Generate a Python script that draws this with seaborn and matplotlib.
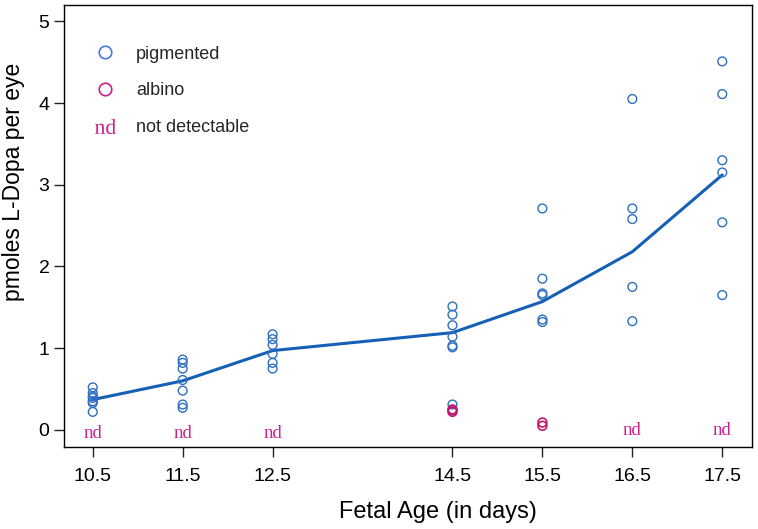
import pandas as pd
import matplotlib
matplotlib.use("Agg")
import matplotlib.pyplot as plt
import seaborn as sns
from matplotlib.lines import Line2D

ages = [10.5, 11.5, 12.5, 14.5, 15.5, 16.5, 17.5]
pig_105 = [0.52, 0.45, 0.41, 0.39, 0.35, 0.33, 0.22]
pig_115 = [0.86, 0.82, 0.75, 0.61, 0.48, 0.31, 0.27]
pig_125 = [1.17, 1.11, 1.04, 0.93, 0.82, 0.75]
pig_145 = [1.51, 1.41, 1.28, 1.14, 1.03, 1.01, 0.31]
pig_155 = [2.71, 1.85, 1.67, 1.65, 1.35, 1.32]
pig_165 = [4.05, 2.71, 2.58, 1.75, 1.33]
pig_175 = [4.51, 4.11, 3.30, 3.15, 2.54, 1.65]
pigmented = [pig_105, pig_115, pig_125, pig_145, pig_155, pig_165, pig_175]

albino_ages = [14.5, 14.5, 14.5, 15.5, 15.5]
albino_vals = [0.25, 0.24, 0.22, 0.09, 0.05]

mean_line = [0.37, 0.60, 0.97, 1.19, 1.57, 2.18, 3.12]

nd_ages = [10.5, 11.5, 12.5, 16.5, 17.5]
nd_y = [-0.05, -0.05, -0.05, -0.01, -0.01]

BLUE = "#2f6fc0"
LINE = "#1560b5"
MAGENTA = "#cc1f8f"

pig_df = pd.DataFrame({
    "age": [a for a, vals in zip(ages, pigmented) for _ in vals],
    "val": [v for vals in pigmented for v in vals],
})
alb_df = pd.DataFrame({"age": albino_ages, "val": albino_vals})
mean_df = pd.DataFrame({"age": ages, "val": mean_line})

sns.set_style("ticks")
plt.rcParams["font.family"] = ["Liberation Sans", "DejaVu Sans"]
plt.rcParams["mathtext.fontset"] = "custom"
plt.rcParams["mathtext.rm"] = "Liberation Serif"

fig = plt.figure(figsize=(7.58, 5.29), dpi=100)
ax = fig.add_axes([0.0844, 0.155, 0.9076, 0.8355])

sns.lineplot(data=mean_df, x="age", y="val", color=LINE, linewidth=2.2, ax=ax)
sns.scatterplot(data=pig_df, x="age", y="val", marker="o", s=40,
                facecolor="none", edgecolor=BLUE, linewidth=1.0, ax=ax, zorder=3)
sns.scatterplot(data=alb_df, x="age", y="val", marker="o", s=40,
                facecolor="none", edgecolor="#c0176e", linewidth=1.2, ax=ax, zorder=3)

for a, y in zip(nd_ages, nd_y):
    ax.text(a, y, "nd", color=MAGENTA, fontsize=13.5, ha="center", va="center",
            family=["Liberation Serif", "DejaVu Serif"])

ax.set_xlim(10.18, 17.83)
ax.set_ylim(-0.21, 5.2)
ax.set_xticks(ages)
ax.set_xticklabels([str(a) for a in ages])
ax.set_yticks([0, 1, 2, 3, 4, 5])
ax.tick_params(axis="both", labelsize=14, length=7, width=1, color="#222222",
               labelcolor="black")
ax.tick_params(axis="x", pad=8)
ax.set_xlabel("Fetal Age (in days)", fontsize=17, color="black")
ax.set_ylabel("pmoles L-Dopa per eye", fontsize=16.5, color="black")
ax.xaxis.set_label_coords(0.544, -0.122)
ax.yaxis.set_label_coords(-0.057, 0.60)
for sp in ax.spines.values():
    sp.set_visible(True)
    sp.set_linewidth(1.0)
    sp.set_color("black")

# legend
handles = [
    Line2D([], [], marker="o", linestyle="none", markersize=9,
           markerfacecolor="none", markeredgecolor="#4a7ae0", markeredgewidth=1.2),
    Line2D([], [], marker="o", linestyle="none", markersize=9,
           markerfacecolor="none", markeredgecolor=MAGENTA, markeredgewidth=1.2),
    Line2D([], [], marker="$\\mathrm{nd}$", linestyle="none", markersize=15,
           markeredgewidth=0, color=MAGENTA),
]
ax.legend(handles, ["pigmented", "albino", "not detectable"], loc="upper left",
          bbox_to_anchor=(0.01, 0.945), frameon=False, fontsize=13,
          labelspacing=1.1, handletextpad=0.7)

fig.savefig("out.png", dpi=100)
